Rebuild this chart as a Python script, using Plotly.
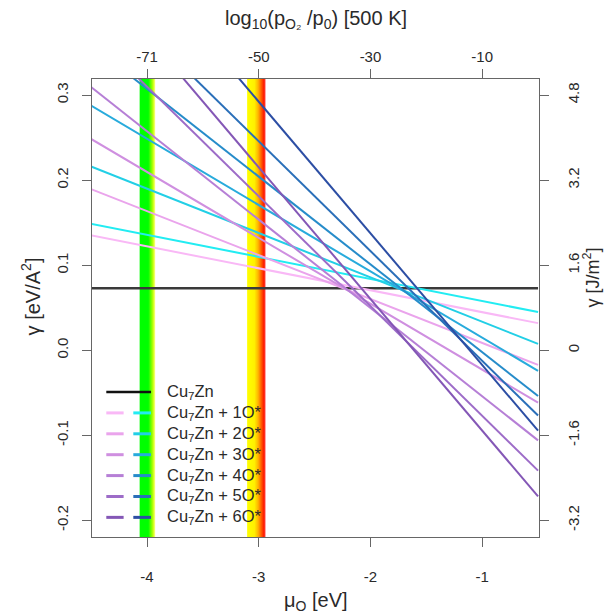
import plotly.graph_objects as go

# ---------------- data ----------------
mu_ends = [-4.5, -0.5]                      # mu_O [eV] at the two ends of every line
clean_gamma = [0.073, 0.073]                # Cu7Zn clean surface
coverage = ["1", "2", "3", "4", "5", "6"]
pink_left = [0.1351, 0.1894, 0.2484, 0.3094, 0.3745, 0.4473]
pink_right = [0.0319, -0.0172, -0.0615, -0.1060, -0.1415, -0.1719]
cyan_left = [0.1488, 0.2161, 0.2877, 0.3590, 0.4392, 0.5244]
cyan_right = [0.0449, 0.0075, -0.0242, -0.0538, -0.0768, -0.0946]
green_band = [-4.066, -3.926]
red_band = [-3.104, -2.940]
x_ticks = [-4, -3, -2, -1]
x_tick_text = ["-4", "-3", "-2", "-1"]
top_tick_text = ["-71", "-50", "-30", "-10"]
y_ticks = [-0.2, -0.1, 0.0, 0.1, 0.2, 0.3]
y_tick_text = ["-0.2", "-0.1", "0.0", "0.1", "0.2", "0.3"]
right_tick_text = ["-3.2", "-1.6", "0", "1.6", "3.2", "4.8"]

# ---------------- styles ----------------
pink_colors = ["#f9b8f6", "#eaa4ec", "#cf8fe0", "#b67fd6", "#9d6cc8", "#8457b6"]
cyan_colors = ["#22ecf2", "#22cfe6", "#28abdc", "#268cca", "#2a6fb9", "#2c4ea4"]
x_range = [-4.4925, -0.4915]
y_range = [-0.2196, 0.319]
FONT = "Liberation Sans, Arial, sans-serif"
TXT = "#2a2a2a"
AX = "#666666"

fig = go.Figure()

# colour bands (gradient)
fig.add_trace(go.Scatter(
    x=[green_band[0], green_band[1], green_band[1], green_band[0], green_band[0]],
    y=[-1, -1, 1, 1, -1], mode="lines", line=dict(width=0), fill="toself",
    fillgradient=dict(type="horizontal", colorscale=[
        [0, "#00ff00"], [0.55, "#00ff00"], [0.8, "#9cff00"], [0.92, "#e6ff30"], [1, "#ffffb0"]]),
    hoverinfo="skip", showlegend=False))
fig.add_trace(go.Scatter(
    x=[red_band[0], red_band[1], red_band[1], red_band[0], red_band[0]],
    y=[-1, -1, 1, 1, -1], mode="lines", line=dict(width=0), fill="toself",
    fillgradient=dict(type="horizontal", colorscale=[
        [0, "#ffff00"], [0.4, "#fff000"], [0.6, "#ffb400"], [0.78, "#ff5a00"], [0.9, "#ff2000"], [1, "#ff3a3a"]]),
    hoverinfo="skip", showlegend=False))

# clean surface
fig.add_trace(go.Scatter(x=mu_ends, y=clean_gamma, mode="lines",
                         line=dict(color="#3a3a3a", width=2.5), showlegend=False))

for i in range(len(coverage)):
    fig.add_trace(go.Scatter(x=mu_ends, y=[pink_left[i], pink_right[i]], mode="lines",
                             line=dict(color=pink_colors[i], width=2), showlegend=False))
    fig.add_trace(go.Scatter(x=mu_ends, y=[cyan_left[i], cyan_right[i]], mode="lines",
                             line=dict(color=cyan_colors[i], width=2), showlegend=False))

# top and right axes helpers
fig.add_trace(go.Scatter(x=x_range, y=y_range, xaxis="x2", yaxis="y2", mode="markers",
                         marker=dict(opacity=0), hoverinfo="skip", showlegend=False))

axis_common = dict(showgrid=False, zeroline=False, ticks="outside", ticklen=9, tickwidth=1,
                   tickcolor=AX, tickfont=dict(family=FONT, size=15, color=TXT))
fig.update_layout(
    width=605, height=616,
    margin=dict(l=92, r=66, t=79, b=79),
    paper_bgcolor="white", plot_bgcolor="white",
    xaxis=dict(range=x_range, tickvals=x_ticks, ticktext=x_tick_text, showline=True,
               linecolor=AX, linewidth=1, mirror=True, ticklabelstandoff=17, **axis_common),
    yaxis=dict(range=y_range, tickvals=y_ticks, ticktext=y_tick_text, showline=True,
               linecolor=AX, linewidth=1, mirror=True, tickangle=-90, ticklabelstandoff=8,
               **axis_common),
    xaxis2=dict(range=x_range, overlaying="x", side="top", tickvals=x_ticks,
                ticktext=top_tick_text, showline=False, ticklabelstandoff=1, **axis_common),
    yaxis2=dict(range=y_range, overlaying="y", side="right", tickvals=y_ticks,
                ticktext=right_tick_text, showline=False, tickangle=-90, ticklabelstandoff=12,
                **axis_common),
)

# axis titles
title_font = dict(family=FONT, size=20, color=TXT)
fig.add_annotation(text="log<sub>10</sub>(p<sub>O₂</sub> /p<sub>0</sub>) [500 K]", xref="paper",
                   yref="paper", x=0.5, y=1.131, xanchor="center", yanchor="middle",
                   showarrow=False, font=title_font)
fig.add_annotation(text="μ<sub>O</sub> [eV]", xref="paper", yref="paper", x=0.5, y=-0.1405,
                   xanchor="center", yanchor="middle", showarrow=False, font=title_font)
fig.add_annotation(text="γ [eV/A<sup>2</sup>]", xref="paper", yref="paper", x=-0.138, y=0.526,
                   xanchor="center", yanchor="middle", showarrow=False, textangle=-90,
                   font=title_font)
fig.add_annotation(text="γ [J/m<sup>2</sup>]", xref="paper", yref="paper", x=1.117, y=0.567,
                   xanchor="center", yanchor="middle", showarrow=False, textangle=-90,
                   font=dict(family=FONT, size=18, color=TXT))

# legend (drawn manually, two samples per row)
leg_y0, leg_dy = -0.0491, -0.02457
pink_x = [-4.3645, -4.2095]
cyan_x = [-4.1227, -3.9642]
text_x = -3.84
leg_font = dict(family=FONT, size=16.5, color=TXT)
fig.add_shape(type="line", xref="x", yref="y", x0=pink_x[0], x1=cyan_x[1], y0=leg_y0, y1=leg_y0,
              line=dict(color="#111111", width=2.5))
fig.add_annotation(text="Cu<sub>7</sub>Zn", xref="x", yref="y", x=text_x, y=leg_y0,
                   xanchor="left", yanchor="middle", showarrow=False, font=leg_font)
for i in range(len(coverage)):
    yy = leg_y0 + (i + 1) * leg_dy
    fig.add_shape(type="line", xref="x", yref="y", x0=pink_x[0], x1=pink_x[1], y0=yy, y1=yy,
                  line=dict(color=pink_colors[i], width=3))
    fig.add_shape(type="line", xref="x", yref="y", x0=cyan_x[0], x1=cyan_x[1], y0=yy, y1=yy,
                  line=dict(color=cyan_colors[i], width=3))
    fig.add_annotation(text="Cu<sub>7</sub>Zn + " + coverage[i] + "O*", xref="x", yref="y",
                       x=text_x, y=yy, xanchor="left", yanchor="middle", showarrow=False,
                       font=leg_font)

fig.write_html("out.html")
